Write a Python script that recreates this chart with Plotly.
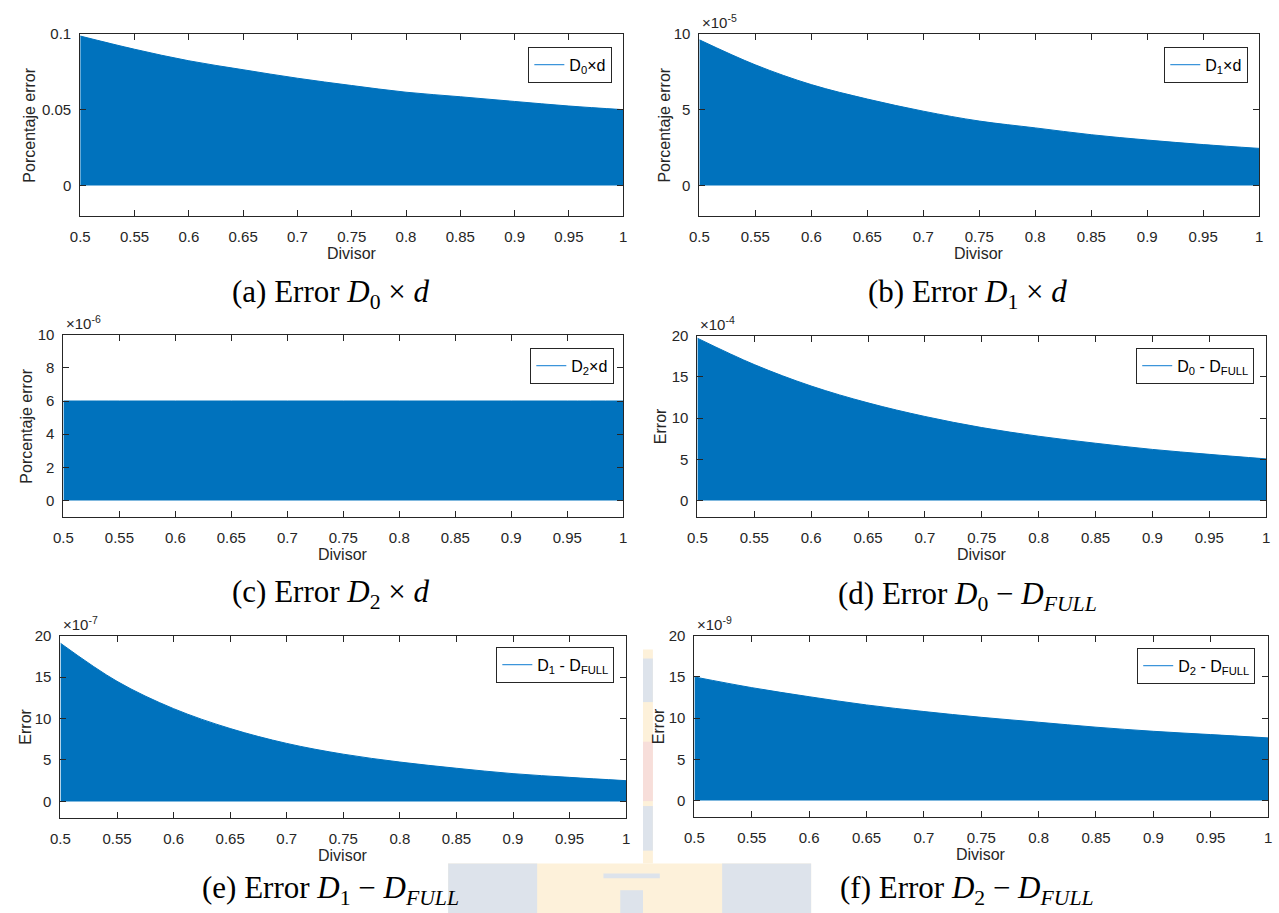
import plotly.graph_objects as go

W, H = 1279, 913

# ---------------- data ----------------
divisor = [0.5, 0.55, 0.6, 0.65, 0.7, 0.75, 0.8, 0.85, 0.9, 0.95, 1.0]
x_tick_labels = ["0.5", "0.55", "0.6", "0.65", "0.7", "0.75", "0.8", "0.85", "0.9", "0.95", "1"]

err_d0_d = [0.0985, 0.0898, 0.0822, 0.0763, 0.0707, 0.0659, 0.0615, 0.0585, 0.0554, 0.0524, 0.0500]
err_d1_d = [9.6, 7.95, 6.65, 5.7, 4.9, 4.25, 3.8, 3.35, 3.0, 2.7, 2.45]        # x1e-5
err_d2_d = [6.0, 6.0, 6.0, 6.0, 6.0, 6.0, 6.0, 6.0, 6.0, 6.0, 6.0]            # x1e-6
err_d0_full = [19.7, 16.5, 13.9, 11.85, 10.2, 8.85, 7.8, 6.95, 6.2, 5.6, 5.05]  # x1e-4
err_d1_full = [19.1, 14.5, 11.2, 8.8, 7.0, 5.7, 4.75, 4.0, 3.35, 2.9, 2.5]    # x1e-7
err_d2_full = [15.0, 13.7, 12.6, 11.6, 10.8, 10.1, 9.5, 8.9, 8.4, 8.0, 7.6]   # x1e-9

series = [err_d0_d, err_d1_d, err_d2_d, err_d0_full, err_d1_full, err_d2_full]
legend_names = ["D<sub>0</sub>×d", "D<sub>1</sub>×d", "D<sub>2</sub>×d",
                "D<sub>0</sub> - D<sub>FULL</sub>", "D<sub>1</sub> - D<sub>FULL</sub>",
                "D<sub>2</sub> - D<sub>FULL</sub>"]
y_titles = ["Porcentaje error", "Porcentaje error", "Porcentaje error", "Error", "Error", "Error"]
exponents = [None, "-5", "-6", "-4", "-7", "-9"]
y_ranges = [[-0.02, 0.1], [-2, 10], [-1, 10], [-2, 20], [-2, 20], [-2, 20]]
y_tickvals = [[0, 0.05, 0.1], [0, 5, 10], [0, 2, 4, 6, 8, 10],
              [0, 5, 10, 15, 20], [0, 5, 10, 15, 20], [0, 5, 10, 15, 20]]
y_ticktext = [["0", "0.05", "0.1"], ["0", "5", "10"], ["0", "2", "4", "6", "8", "10"],
              ["0", "5", "10", "15", "20"], ["0", "5", "10", "15", "20"], ["0", "5", "10", "15", "20"]]
captions = [
    "(a) Error <i>D</i><sub>0</sub> × <i>d</i>",
    "(b) Error <i>D</i><sub>1</sub> × <i>d</i>",
    "(c) Error <i>D</i><sub>2</sub> × <i>d</i>",
    "(d) Error <i>D</i><sub>0</sub> − <i>D</i><sub><i>FULL</i></sub>",
    "(e) Error <i>D</i><sub>1</sub> − <i>D</i><sub><i>FULL</i></sub>",
    "(f) Error <i>D</i><sub>2</sub> − <i>D</i><sub><i>FULL</i></sub>",
]

# ---------------- layout geometry (pixels) ----------------
# plot boxes: (left, right, top, bottom)
boxes = [(71, 620, 25, 209), (697, 1263, 25, 209),
         (54, 620, 329, 513), (695, 1270, 330, 513),
         (51, 623, 633, 817), (692, 1272, 633, 816)]
legend_rt = [(609, 38), (1252, 38), (611, 342), (1258, 342), (611, 644), (1259, 645)]
ytitle_x = [20, 662, 17, 658, 16, 656]
caption_pos = [(325, 288), (968, 288), (325, 591), (968, 593), (324, 890), (968, 890)]

BLUE = "#0072BD"
AX = "#262626"
FONT = "Liberation Sans, Arial, sans-serif"


def px(x):
    return x / W


def py(y):
    return 1 - y / H


fig = go.Figure()
annotations = []
layout = dict(width=W, height=H, margin=dict(l=0, r=0, t=0, b=0),
              paper_bgcolor="white", plot_bgcolor="white", showlegend=True,
              font=dict(family=FONT, color=AX, size=15))

for i in range(6):
    n = "" if i == 0 else str(i + 1)
    l, r, t, b = boxes[i]
    fig.add_trace(go.Scatter(
        x=divisor, y=series[i], mode="lines", fill="tozeroy",
        fillcolor=BLUE, line=dict(color=BLUE, width=1, shape="spline"),
        xaxis="x" + n, yaxis="y" + n, showlegend=False, hoverinfo="skip"))
    fig.add_trace(go.Scatter(
        x=[None], y=[None], mode="lines", name=legend_names[i],
        line=dict(color="#3C95DA", width=1.2),
        xaxis="x" + n, yaxis="y" + n, legend="legend" + n))
    layout["xaxis" + n] = dict(
        domain=[px(l), px(r)], anchor="y" + n, range=[0.5, 1.0],
        tickvals=divisor, ticktext=x_tick_labels, ticks="inside", ticklen=6,
        tickcolor=AX, showline=True, linecolor=AX, linewidth=1, mirror="ticks",
        showgrid=False, zeroline=False, tickfont=dict(size=15, color=AX),
        ticklabelstandoff=7)
    layout["yaxis" + n] = dict(
        domain=[py(b), py(t)], anchor="x" + n, range=y_ranges[i],
        tickvals=y_tickvals[i], ticktext=y_ticktext[i], ticks="inside", ticklen=6,
        tickcolor=AX, showline=True, linecolor=AX, linewidth=1, mirror="ticks",
        showgrid=False, zeroline=False, tickfont=dict(size=15, color=AX),
        ticklabelstandoff=5)
    lx, ly = legend_rt[i]
    layout["legend" + n] = dict(
        x=px(lx), y=py(ly), xanchor="right", yanchor="top",
        bordercolor="#262626", borderwidth=1, bgcolor="white",
        font=dict(family=FONT, size=16, color="black"), itemwidth=30)
    # axis titles
    annotations.append(dict(text="Divisor", x=px((l + r) / 2), y=py(b + 38),
                            xref="paper", yref="paper", showarrow=False,
                            xanchor="center", yanchor="middle",
                            font=dict(family=FONT, size=16, color=AX)))
    annotations.append(dict(text=y_titles[i], x=px(ytitle_x[i]), y=py((t + b) / 2),
                            xref="paper", yref="paper", showarrow=False, textangle=-90,
                            xanchor="center", yanchor="middle",
                            font=dict(family=FONT, size=16, color=AX)))
    if exponents[i]:
        annotations.append(dict(text="×10<sup>" + exponents[i] + "</sup>",
                                x=px(l + 1), y=py(t - 1), xref="paper", yref="paper",
                                showarrow=False, xanchor="left", yanchor="bottom",
                                font=dict(family=FONT, size=15, color=AX)))
    cx, cy = caption_pos[i]
    annotations.append(dict(text=captions[i], x=px(cx), y=py(cy), xref="paper",
                            yref="paper", showarrow=False, xanchor="center",
                            yanchor="middle", borderpad=0,
                            font=dict(family="Liberation Serif, serif", size=31,
                                      color="black")))

# faint watermark behind the lower panels (only where it shows through)
BEIGE = "#FDF1DA"
GREYB = "#DDE3EB"
PINK = "#F7DEDA"
wm = [
    (640, 650, 647, 863, BEIGE), (640, 650, 656, 700, GREYB), (640, 650, 740, 800, PINK),
    (640, 650, 805, 850, GREYB),
    (443, 810, 863, 913, BEIGE), (443, 533, 863, 913, GREYB), (720, 810, 863, 913, GREYB),
    (600, 657, 873, 878, GREYB), (617, 640, 890, 913, GREYB),
]
shapes = []
for x0, x1, y0, y1, c in wm:
    shapes.append(dict(type="rect", xref="paper", yref="paper", x0=px(x0), x1=px(x1),
                       y0=py(y1), y1=py(y0), fillcolor=c, line=dict(width=0),
                       layer="below"))
layout["shapes"] = shapes
layout["annotations"] = annotations
fig.update_layout(**layout)

fig.write_html("out.html", config={"displayModeBar": False},
               post_script="document.body.style.margin='0';document.body.style.overflow='hidden';")
